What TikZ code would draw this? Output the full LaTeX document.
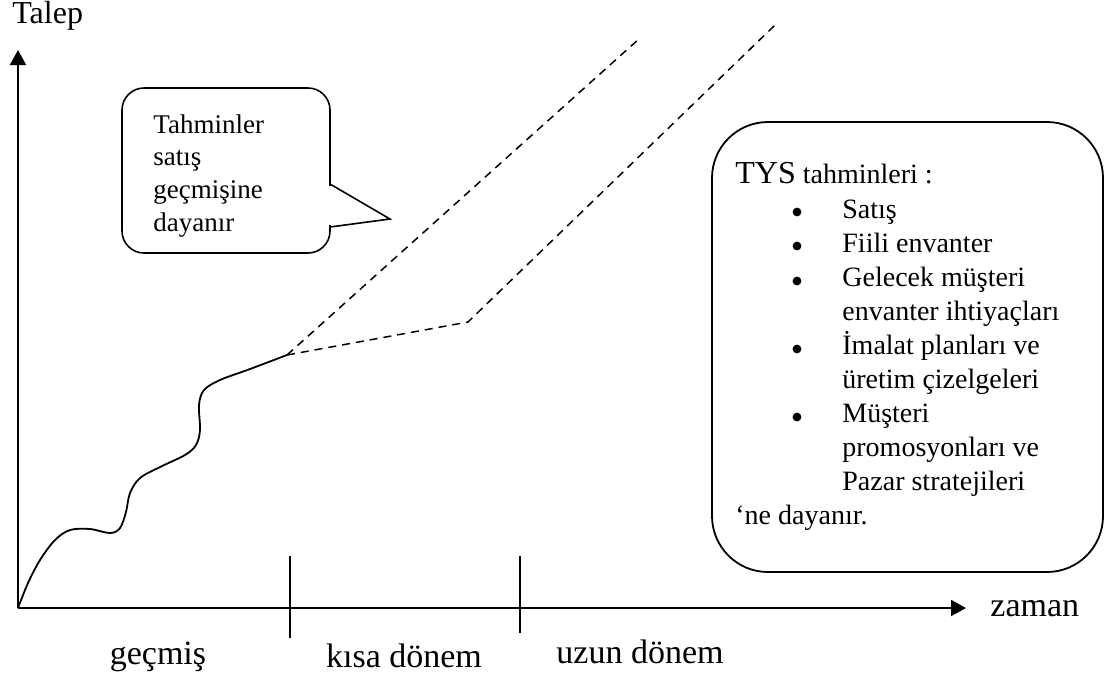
\documentclass[tikz,border=0pt]{standalone}
\usepackage{fontspec}
\setmainfont{Liberation Serif}
\usetikzlibrary{arrows.meta}
\tikzset{
  axisarrow/.style={-{Triangle[length=7.5pt,width=8pt]}, line width=1pt},
  tickline/.style={line width=0.7pt},
  salesline/.style={line width=0.9pt},
  forecast/.style={line width=0.75pt, dash pattern=on 4pt off 3pt},
  bubble/.style={draw, line width=0.8pt, fill=white, rounded corners=11pt, minimum width=104pt, minimum height=82.5pt},
  bubbletip/.style={line width=0.8pt, line join=miter},
  infobox/.style={draw, line width=0.9pt, rounded corners=28pt, minimum width=195.5pt, minimum height=225pt},
  axislabel/.style={font=\fontsize{17}{20}\selectfont, inner sep=0pt},
  boxtext/.style={font=\fontsize{14}{17}\selectfont, inner sep=0pt, align=left}
}
\begin{document}
\begin{tikzpicture}[x=0.5pt, y=-0.5pt]
\useasboundingbox (0,0) rectangle (1112,677);
% axes
\coordinate (origin) at (18,608);
\coordinate (ytop) at (18,50);
\coordinate (xend) at (966,608);
\draw[axisarrow] (origin) -- (ytop);
\draw[axisarrow] (origin) -- (xend);
\node[axislabel, font=\fontsize{16}{19}\selectfont, anchor=base west] (talep) at (12,23) {Talep};
\node[axislabel, anchor=base west] (zaman) at (990,616) {zaman};
% period marks
\coordinate (kisatop) at (290,556);
\coordinate (kisabot) at (290,638);
\coordinate (uzuntop) at (520,556);
\coordinate (uzunbot) at (520,633);
\draw[tickline] (kisatop) -- (kisabot);
\draw[tickline] (uzuntop) -- (uzunbot);
\node[axislabel, anchor=base] (gecmis) at (158,664) {geçmiş};
\node[axislabel, anchor=base] (kisa) at (404,667) {kısa dönem};
\node[axislabel, anchor=base] (uzun) at (640,663) {uzun dönem};
% sales history
\coordinate (split) at (287,355);
\draw[salesline] plot[smooth, tension=0.55] coordinates {(18,608) (28,583) (40,560) (55,540) (70,530) (90,529) (110,533) (120,528) (126,512) (130,493) (140,478) (160,467) (185,455) (196,445) (200,430) (199,405) (204,390) (220,380) (250,369) (287,355)};
% forecasts
\coordinate (highend) at (640,38);
\coordinate (kink) at (468,322);
\coordinate (lowend) at (775,25);
\draw[forecast] (split) -- (highend);
\draw[forecast] (split) -- (kink) -- (lowend);
% speech bubble
\node[bubble] (tahminbox) at (226,170.5) {};
\coordinate (tipbase1) at (330,184);
\coordinate (tip) at (390,219);
\coordinate (tipbase2) at (330,227);
\draw[bubbletip] (tipbase1) -- (tip) -- (tipbase2);
\fill[white] (328.2,185.6) rectangle (331.8,225.4);
\node[boxtext, font=\fontsize{13.5}{16.4}\selectfont, anchor=north west] (tahmin) at (153,114) {Tahminler\\satış\\geçmişine\\dayanır};
% TYS box
\node[infobox] (tys) at (907.5,347) {};
\node[boxtext, anchor=base west] (tysbaslik) at (735,183) {{\fontsize{16}{17}\selectfont TYS} tahminleri :};
\node[boxtext, anchor=north west] (tysliste) at (735,194) {%
\begin{tabular}{@{}p{53.5pt}@{}l@{}}
 & Satış\\
 & Fiili envanter\\
 & Gelecek müşteri\\
 & envanter ihtiyaçları\\
 & İmalat planları ve\\
 & üretim çizelgeleri\\
 & Müşteri\\
 & promosyonları ve\\
 & Pazar stratejileri\\
\multicolumn{2}{@{}l@{}}{‘ne dayanır.}
\end{tabular}};
\fill (797,212) circle (2.2pt);
\fill (797,246) circle (2.2pt);
\fill (797,281) circle (2.2pt);
\fill (797,349) circle (2.2pt);
\fill (797,417) circle (2.2pt);
\end{tikzpicture}
\end{document}
